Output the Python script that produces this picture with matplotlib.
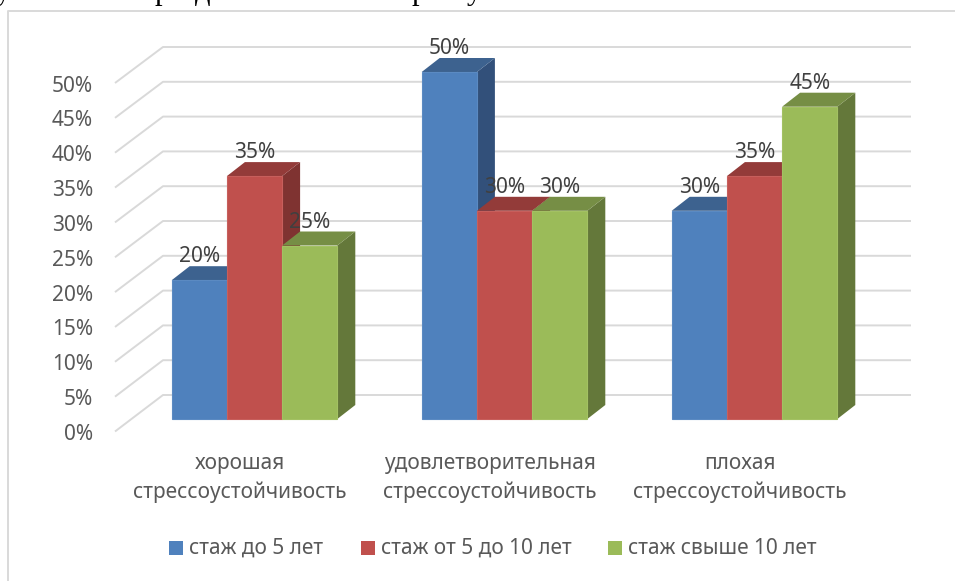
import numpy as np
import matplotlib
matplotlib.use('Agg')
import matplotlib.pyplot as plt
from matplotlib.patches import Polygon, Rectangle

plt.rcParams['font.family'] = ['Noto Sans', 'DejaVu Sans']

categories = ['хорошая\nстрессоустойчивость',
              'удовлетворительная\nстрессоустойчивость',
              'плохая\nстрессоустойчивость']
series_names = ['стаж до 5 лет', 'стаж от 5 до 10 лет', 'стаж свыше 10 лет']
short_exp = [20, 50, 30]
mid_exp = [35, 30, 35]
long_exp = [25, 30, 45]
y_ticks = [0, 5, 10, 15, 20, 25, 30, 35, 40, 45, 50]

# bottoms of the letters of the page text cut off above the chart
cut_letters = ['у', 'р', 'д', 'р', 'у']
cut_letter_x = [3, 162, 203, 419, 474]

front = ['#4F81BD', '#C0504D', '#9BBB59']
edge = ['#5B8AC2', '#C75F5C', '#A3C163']
top = ['#3D628F', '#933B39', '#768E45']
side = ['#32507A', '#7F3331', '#64783A']
grid_col = '#D9D9D9'
text_col = '#595959'

W, H = 955, 581
PX_PER_PCT = 6.94   # bar plane
GROUP_STEP = 250.0
BAR_W = 55.2 / GROUP_STEP
DX = 18 / GROUP_STEP
DY = 14 / PX_PER_PCT

fig = plt.figure(figsize=(W / 100, H / 100), dpi=100)
ax = fig.add_axes([0, 0, 1, 1])
# x in category units, y in percent on the front plane of the bars
ax.set_xlim(-254.5 / GROUP_STEP, (W - 254.5) / GROUP_STEP)
ax.set_ylim((419 - H) / PX_PER_PCT, 419 / PX_PER_PCT)
ax.axis('off')


def xp(px):
    return (px - 254.5) / GROUP_STEP


def yp(py):
    return (419 - py) / PX_PER_PCT


# chart frame
ax.plot([xp(8), xp(8), xp(955)], [yp(581), yp(11), yp(11)], color=grid_col, lw=1.4)

for ch, cx in zip(cut_letters, cut_letter_x):
    ax.text(xp(cx), yp(-0.5), ch, family='Liberation Serif', fontsize=22, color='black',
            ha='center', va='baseline')

# floor/back wall gridlines
for v in y_ticks:
    wall_front = 431.5 - v * 6.97
    wall_back = 395 - v * 6.96
    ax.plot([xp(115), xp(163), xp(911)], [yp(wall_front), yp(wall_back), yp(wall_back)],
            color=grid_col, lw=1.4, solid_capstyle='butt', zorder=1)
    ax.text(xp(93), yp(wall_front + 3), f'{v}%', ha='right', va='center',
            fontsize=15, color=text_col)

# bars, left to right so each front hides the previous side
values = [short_exp, mid_exp, long_exp]
z = 3
for g in range(len(categories)):
    left = g - 1.5 * BAR_W
    for s in range(3):
        v = values[s][g]
        x0 = left + s * BAR_W
        x1 = x0 + BAR_W
        ax.add_patch(Polygon([(x1, 0), (x1 + DX, DY), (x1 + DX, v + DY), (x1, v)],
                             fc=side[s], ec='none', zorder=z))
        ax.add_patch(Polygon([(x0, v), (x0 + DX, v + DY), (x1 + DX, v + DY), (x1, v)],
                             fc=top[s], ec='none', zorder=z))
        ax.add_patch(Rectangle((x0, 0), BAR_W, v, fc=front[s], ec=edge[s], lw=0.8, zorder=z + 1))
        ax.text(x0 + BAR_W / 2, v + 23.5 / PX_PER_PCT, f'{v}%', ha='center', va='center',
                fontsize=15, color='#404040', zorder=20)
        z += 2
    ax.text(g - 15 / GROUP_STEP, yp(478), categories[g], ha='center', va='center', fontsize=15,
            color=text_col, linespacing=1.4)

# legend
legend_x = [169, 361, 608]
for i, name in enumerate(series_names):
    ax.add_patch(Rectangle((xp(legend_x[i]), yp(555)), 14 / GROUP_STEP, 14 / PX_PER_PCT,
                           fc=front[i], ec='none'))
    ax.text(xp(legend_x[i] + 20), yp(548), name, ha='left', va='center',
            fontsize=15, color=text_col)

fig.savefig('out.png', dpi=100, facecolor='white')
